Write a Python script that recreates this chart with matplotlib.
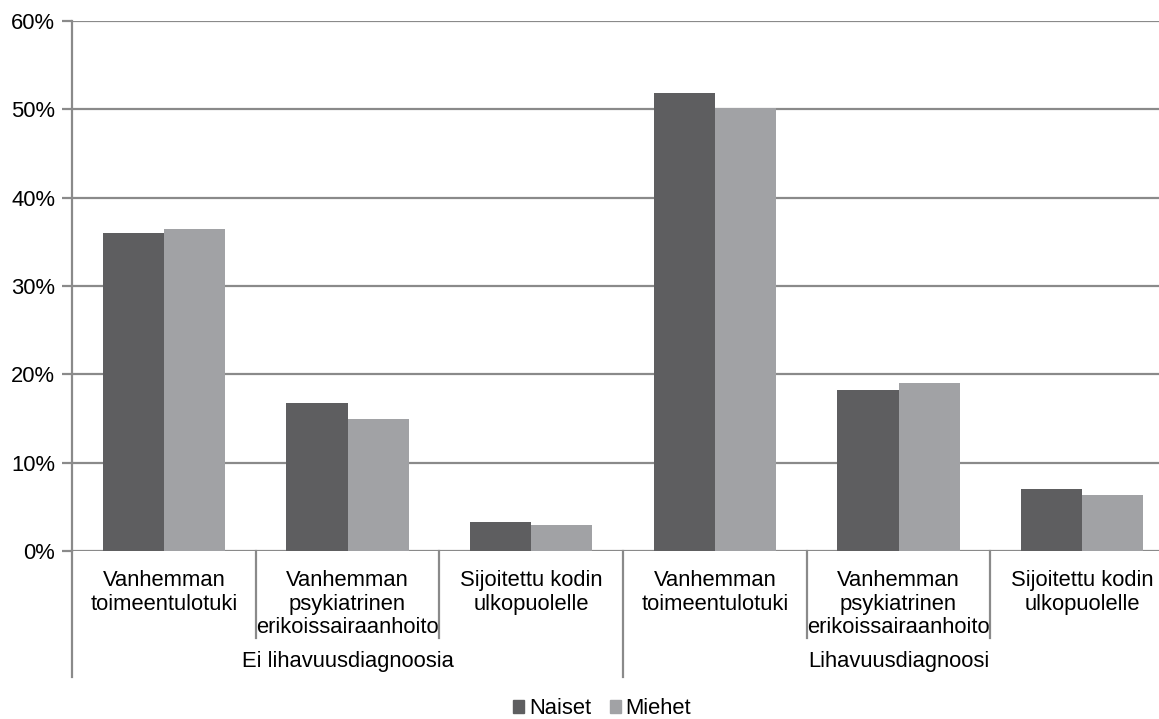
import matplotlib
matplotlib.use("Agg")
import matplotlib.pyplot as plt
import matplotlib.transforms as mtransforms
from matplotlib.patches import Patch

plt.rcParams['font.family'] = ['Liberation Sans', 'DejaVu Sans']

# data
groups = ['Ei lihavuusdiagnoosia', 'Lihavuusdiagnoosi']
categories = ['Vanhemman\ntoimeentulotuki',
              'Vanhemman\npsykiatrinen\nerikoissairaanhoito',
              'Sijoitettu kodin\nulkopuolelle']
naiset = [36.0, 16.8, 3.3, 51.9, 18.2, 7.0]
miehet = [36.4, 14.9, 3.0, 50.2, 19.0, 6.3]
yticks = [0, 10, 20, 30, 40, 50, 60]

c_nai = '#5e5e60'
c_mie = '#a1a2a5'
c_grid = '#8a8a8a'
fs = 15.8


def main():
    fig = plt.figure(figsize=(11.59, 7.19), dpi=100)
    W, H = 1159, 719
    left, right, top, bottom = 72, 1174, 21, 551
    ax = fig.add_axes([left / W, 1 - bottom / H, (right - left) / W, (bottom - top) / H])

    n = len(naiset)
    xs = list(range(n))
    bw = 0.333
    ax.bar([x - bw / 2 for x in xs], naiset, width=bw, color=c_nai, zorder=3)
    ax.bar([x + bw / 2 for x in xs], miehet, width=bw, color=c_mie, zorder=3)

    ax.set_xlim(-0.5, n - 0.5)
    ax.set_ylim(0, 60)
    ax.set_yticks(yticks)
    ax.set_yticklabels([f'{v}%' for v in yticks], fontsize=fs)
    ax.yaxis.grid(True, color=c_grid, linewidth=1.6, zorder=0)
    ax.tick_params(axis='y', length=7, width=1.6, color=c_grid, pad=5)
    ax.tick_params(axis='x', bottom=False, labelbottom=False)
    for s in ['top', 'right', 'bottom']:
        ax.spines[s].set_visible(False)
    ax.spines['left'].set_color(c_grid)
    ax.spines['left'].set_linewidth(1.6)

    trans = mtransforms.blended_transform_factory(ax.transData, ax.transAxes)
    ah = bottom - top
    short_y = -(638 - bottom) / ah
    long_y = -(677 - bottom) / ah

    # category labels
    for i in range(n):
        ax.text(i, -19 / ah, categories[i % 3], transform=trans, ha='center',
                va='top', fontsize=fs, linespacing=1.17)
    # separators
    for k in range(n + 1):
        b = -0.5 + k
        yb = long_y if k % 3 == 0 else short_y
        ax.plot([b, b], [0, yb], transform=trans, color=c_grid, lw=1.6,
                clip_on=False, zorder=1)
    # group labels
    for g, name in enumerate(groups):
        ax.text(1 + 3 * g, -(662 - bottom) / ah, name, transform=trans,
                ha='center', va='center', fontsize=fs)

    handles = [Patch(color=c_nai, label='Naiset'), Patch(color=c_mie, label='Miehet')]
    fig.legend(handles=handles, loc='center', bbox_to_anchor=(602 / W, 1 - 709 / H),
               ncol=2, frameon=False, fontsize=fs, handlelength=0.5,
               handleheight=0.5, handletextpad=0.2, columnspacing=0.85,
               borderaxespad=0, borderpad=0)

    fig.savefig('out.png', dpi=100)


if __name__ == "__main__":
    main()
